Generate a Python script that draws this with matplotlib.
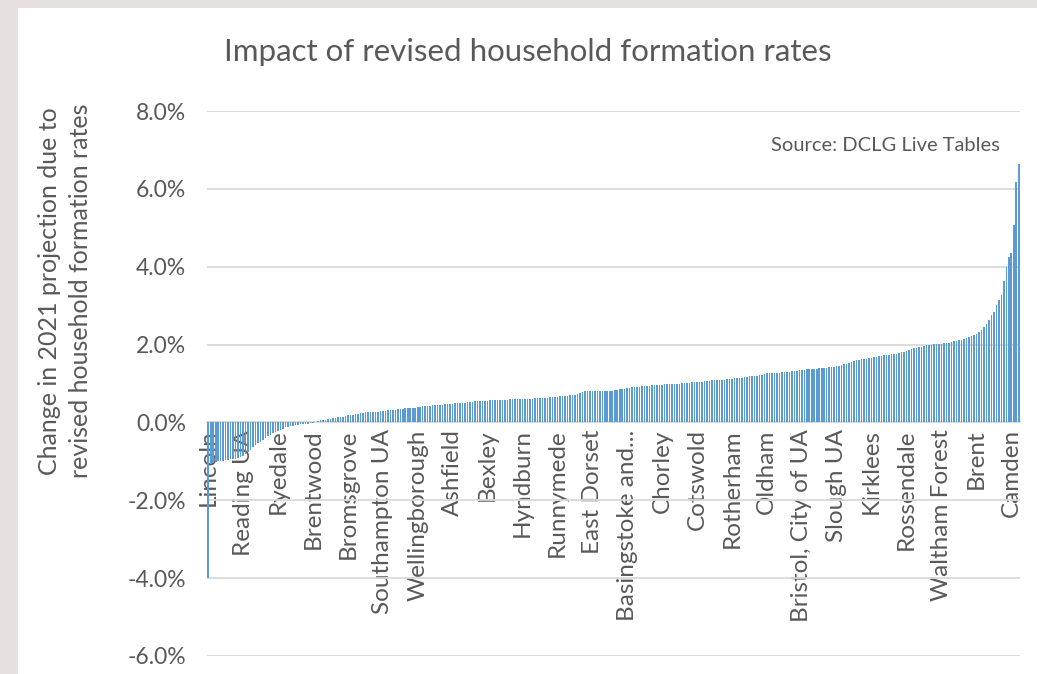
import matplotlib
matplotlib.use("Agg")
import matplotlib.pyplot as plt
from matplotlib.patches import Rectangle
from matplotlib.ticker import FuncFormatter, FixedLocator

# ---- data (percent change, sorted ascending; 326 local authorities) ----
values = [
    -4.00, -1.08, -1.05, -1.02, -1.00, -0.99, -0.98, -0.97, -0.96, -0.95,   # 0-9
    -0.94, -0.93, -0.91, -0.88, -0.85, -0.80, -0.75, -0.70, -0.64, -0.58,   # 10-19
    -0.53, -0.49, -0.45, -0.40, -0.36, -0.32, -0.28, -0.25, -0.22, -0.19,   # 20-29
    -0.16, -0.13, -0.11, -0.10, -0.08, -0.07, -0.06, -0.05, -0.04, -0.04,   # 30-39
    -0.03, -0.02, -0.01, 0.02, 0.04, 0.05, 0.06, 0.07, 0.09, 0.10,          # 40-49
    0.11, 0.12, 0.13, 0.14, 0.15, 0.16, 0.18, 0.19, 0.20, 0.21,             # 50-59
    0.22, 0.23, 0.25, 0.26, 0.26, 0.27, 0.27, 0.28, 0.28, 0.29,             # 60-69
    0.29, 0.30, 0.31, 0.31, 0.32, 0.33, 0.34, 0.35, 0.35, 0.36,             # 70-79
    0.36, 0.37, 0.38, 0.38, 0.39, 0.40, 0.41, 0.42, 0.42, 0.43,             # 80-89
    0.44, 0.44, 0.45, 0.46, 0.46, 0.47, 0.47, 0.48, 0.48, 0.49,             # 90-99
    0.49, 0.50, 0.50, 0.51, 0.52, 0.53, 0.53, 0.54, 0.54, 0.55,             # 100-109
    0.55, 0.56, 0.56, 0.57, 0.57, 0.57, 0.57, 0.58, 0.58, 0.58,             # 110-119
    0.58, 0.59, 0.59, 0.59, 0.60, 0.60, 0.60, 0.60, 0.61, 0.61,             # 120-129
    0.61, 0.62, 0.62, 0.62, 0.63, 0.64, 0.64, 0.65, 0.65, 0.66,             # 130-139
    0.66, 0.67, 0.67, 0.68, 0.69, 0.70, 0.70, 0.71, 0.73, 0.76,             # 140-149
    0.79, 0.80, 0.80, 0.80, 0.80, 0.80, 0.80, 0.81, 0.81, 0.81,             # 150-159
    0.81, 0.81, 0.82, 0.83, 0.84, 0.85, 0.86, 0.87, 0.88, 0.89,             # 160-169
    0.90, 0.90, 0.91, 0.92, 0.93, 0.93, 0.94, 0.94, 0.95, 0.95,             # 170-179
    0.96, 0.97, 0.97, 0.98, 0.98, 0.98, 0.99, 0.99, 1.00, 1.00,             # 180-189
    1.01, 1.01, 1.02, 1.02, 1.03, 1.03, 1.04, 1.05, 1.05, 1.06,             # 190-199
    1.07, 1.07, 1.08, 1.08, 1.09, 1.09, 1.10, 1.10, 1.11, 1.12,             # 200-209
    1.12, 1.13, 1.13, 1.14, 1.15, 1.16, 1.17, 1.18, 1.19, 1.19,             # 210-219
    1.20, 1.21, 1.22, 1.24, 1.26, 1.27, 1.27, 1.27, 1.28, 1.28,             # 220-229
    1.29, 1.29, 1.30, 1.30, 1.31, 1.32, 1.33, 1.34, 1.35, 1.35,             # 230-239
    1.36, 1.37, 1.37, 1.38, 1.38, 1.39, 1.40, 1.40, 1.41, 1.42,             # 240-249
    1.42, 1.43, 1.44, 1.45, 1.47, 1.49, 1.50, 1.52, 1.55, 1.58,             # 250-259
    1.60, 1.61, 1.62, 1.63, 1.64, 1.65, 1.66, 1.67, 1.69, 1.70,             # 260-269
    1.71, 1.72, 1.73, 1.74, 1.75, 1.76, 1.77, 1.78, 1.80, 1.82,             # 270-279
    1.84, 1.86, 1.88, 1.90, 1.91, 1.93, 1.94, 1.96, 1.98, 2.00,             # 280-289
    2.00, 2.01, 2.01, 2.02, 2.02, 2.03, 2.04, 2.05, 2.06, 2.08,             # 290-299
    2.10, 2.12, 2.13, 2.15, 2.17, 2.20, 2.22, 2.25, 2.28, 2.32,             # 300-309
    2.37, 2.44, 2.52, 2.62, 2.76, 2.84, 3.02, 3.15, 3.27, 3.64,             # 310-319
    4.00, 4.26, 4.36, 5.06, 6.17, 6.63,                                     # 320-325
]

label_names = [
    "Lincoln", "Reading UA", "Ryedale", "Brentwood", "Bromsgrove",
    "Southampton UA", "Wellingborough", "Ashfield", "Bexley", "Hyndburn",
    "Runnymede", "East Dorset", "Basingstoke and...", "Chorley", "Cotswold",
    "Rotherham", "Oldham", "Bristol, City of UA", "Slough UA", "Kirklees",
    "Rossendale", "Waltham Forest", "Brent", "Camden",
]
label_step = 14
y_ticks = [-6, -4, -2, 0, 2, 4, 6, 8]

title = "Impact of revised household formation rates"
y_title = "Change in 2021 projection due to\nrevised household formation rates"
source = "Source: DCLG Live Tables"

FONT = ["Lato", "DejaVu Sans"]
TXT = "#595959"
BAR = "#5B9BD5"
GRID = "#D9D9D9"

plt.rcParams["font.family"] = FONT

fig = plt.figure(figsize=(10.37, 6.74), dpi=100)
fig.patch.set_facecolor("#E6E1DE")
fig.patches.append(Rectangle((18 / 1037, 0), 1, 1 - 8 / 674, transform=fig.transFigure,
                             facecolor="white", edgecolor="none", zorder=-10))

ax = fig.add_axes([207 / 1037, 1 - 656 / 674, (1020 - 207) / 1037, (656 - 111) / 674])
ax.set_facecolor("none")

xs = list(range(len(values)))
ax.bar(xs, values, width=0.62, color=BAR, edgecolor="none", zorder=3)

ax.set_xlim(-0.5, len(values) - 0.5)
ax.set_ylim(-6, 8)
ax.yaxis.set_major_locator(FixedLocator(y_ticks))
ax.yaxis.set_major_formatter(FuncFormatter(lambda v, p: f"{v:.1f}%"))
ax.grid(axis="y", color=GRID, linewidth=1.3, zorder=0)
ax.grid(axis="x", visible=False)

for s in ["top", "right", "left"]:
    ax.spines[s].set_visible(False)
ax.spines["bottom"].set_position(("data", 0))
ax.spines["bottom"].set_color(GRID)
ax.spines["bottom"].set_linewidth(1.3)

tick_pos = [i * label_step for i in range(len(label_names))]
ax.set_xticks(tick_pos)
ax.set_xticklabels(label_names, rotation=90, ha="center", va="top",
                   fontsize=17.5, color=TXT)
ax.tick_params(axis="x", length=0, pad=5)
ax.tick_params(axis="y", length=0, pad=15, labelsize=16.5, labelcolor=TXT)

fig.text(528 / 1037, 1 - 52 / 674, title, ha="center", va="center",
         fontsize=22.5, color=TXT)
fig.text(65 / 1037, 1 - 291 / 674, y_title, ha="center", va="center",
         rotation=90, fontsize=18, color=TXT, linespacing=1.4)
ax.text(0.975, 0.9376, source, transform=ax.transAxes, ha="right", va="center",
        fontsize=14.5, color=TXT)

fig.savefig("out.png", dpi=100)
